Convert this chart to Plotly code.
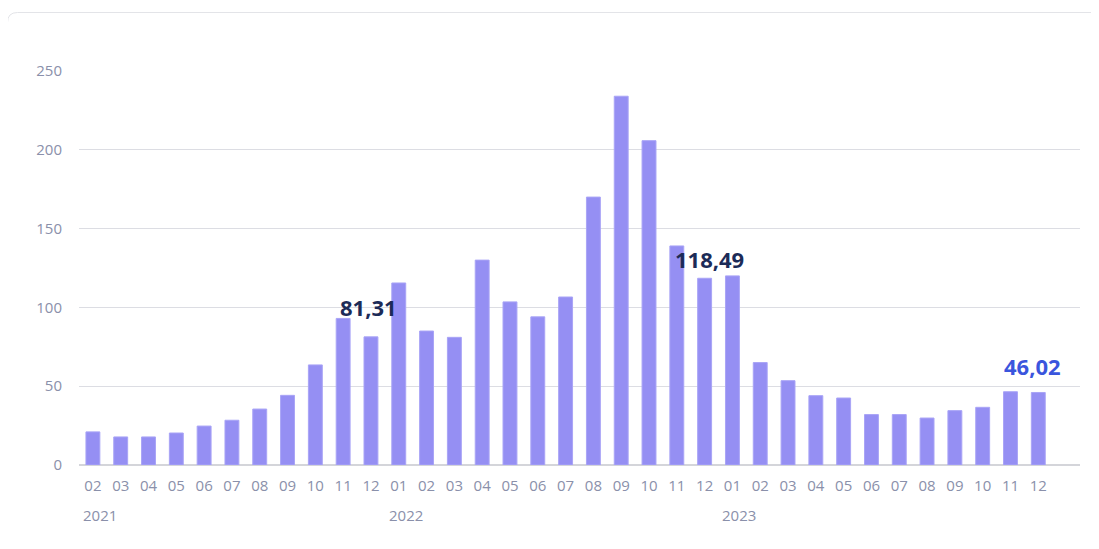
import plotly.graph_objects as go

years = ["2021"] * 11 + ["2022"] * 12 + ["2023"] * 12
months = ["02", "03", "04", "05", "06", "07", "08", "09", "10", "11", "12"] + \
         ["01", "02", "03", "04", "05", "06", "07", "08", "09", "10", "11", "12"] * 2
categories = [f"{y}-{m}" for y, m in zip(years, months)]
values = [21, 17.8, 17.8, 20.3, 24.7, 28.4, 35.5, 44.2, 63.5, 93, 81.31,
          115.5, 85, 81, 130, 103.5, 94, 106.6, 170, 234, 205.8, 139, 118.49,
          120, 65, 53.5, 44, 42.5, 32, 32, 29.8, 34.5, 36.6, 46.5, 46.02]
y_ticks = [0, 50, 100, 150, 200, 250]

highlights = [
    ("2021-12", 81.31, "81,31", "#1c2b57", 13, -2),
    ("2022-12", 118.49, "118,49", "#1c2b57", 2, 5),
    ("2023-12", 46.02, "46,02", "#3a55dd", 9, -6),
]
year_starts = [("2021-02", "2021"), ("2022-01", "2022"), ("2023-01", "2023")]

OFF = 8  # page body margin
L, R, T, B = 79, 1080, 71, 465  # target pixel positions of plot area

fig = go.Figure()
fig.add_trace(go.Bar(
    x=categories, y=values, width=0.5,
    marker=dict(color="#958ff3", line=dict(color="#a9a4f6", width=1)),
    hoverinfo="x+y",
))

for cat, v, txt, col, ys, xs in highlights:
    fig.add_annotation(x=cat, y=v, text=f"<b>{txt}</b>", showarrow=False,
                       yanchor="bottom", yshift=ys, xshift=xs,
                       font=dict(family="Open Sans", size=22, color=col))

for cat, txt in year_starts:
    fig.add_annotation(x=cat, y=0, text=txt, showarrow=False, xanchor="left",
                       yanchor="middle", xshift=-12, yshift=-50,
                       font=dict(family="Open Sans", size=15, color="#8a90aa"))

# card border
def px(xp):
    return (xp - L) / (R - L)
def py(yp):
    return (B - yp) / (B - T)
x0, y0, x1, y1, r = 7.5, 12.5, 1120, 580, 10
path = (f"M {px(x0)},{py(y1)} L {px(x0)},{py(y0 + r)} "
        f"Q {px(x0)},{py(y0)} {px(x0 + r)},{py(y0)} L {px(x1)},{py(y0)}")
fig.add_shape(type="path", path=path, xref="paper", yref="paper",
              line=dict(color="#e3e4e8", width=1), layer="below")

fig.update_layout(
    width=1099, height=549,
    margin=dict(l=L - OFF, r=1099 + OFF - R, t=T - OFF, b=549 + OFF - B),
    paper_bgcolor="white", plot_bgcolor="white",
    showlegend=False, bargap=0.5,
    font=dict(family="Open Sans", size=15, color="#8a90aa"),
)
fig.update_xaxes(
    type="category", range=[-0.5, 35.5],
    tickmode="array", tickvals=categories, ticktext=months,
    showgrid=False, showline=False, ticks="", ticklabelstandoff=10,
    tickfont=dict(family="Open Sans", size=15, color="#8a90aa"),
    fixedrange=True,
)
fig.update_yaxes(
    range=[0, 250], tickvals=y_ticks,
    showgrid=True, gridcolor="#dcdde3", gridwidth=1,
    zeroline=True, zerolinecolor="#d4d5da", zerolinewidth=2,
    showline=False, ticks="", ticklabelstandoff=16,
    tickfont=dict(family="Open Sans", size=15, color="#8a90aa"),
    fixedrange=True,
)

fig.write_html("out.html")
